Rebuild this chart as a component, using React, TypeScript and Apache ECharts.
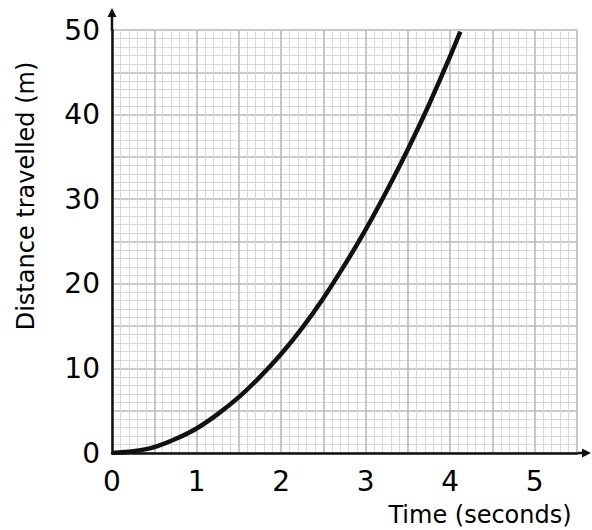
import React, { useEffect, useRef } from "react";
import * as echarts from "echarts";

const timeValues = [0, 0.25, 0.5, 0.75, 1, 1.25, 1.5, 1.75, 2, 2.25, 2.5, 2.75, 3, 3.25, 3.5, 3.75, 4, 4.12];
const distanceValues = [0, 0.2, 0.7, 1.65, 2.9, 4.6, 6.6, 9.0, 11.7, 14.8, 18.3, 22.2, 26.4, 31.0, 35.9, 41.2, 46.9, 49.8];
const xMax = 5.5;
const yMax = 50;
const xTitle = "Time (seconds)";
const yTitle = "Distance travelled (m)";

const FONT = "DejaVu Sans";

export default function App() {
  const ref = useRef<HTMLDivElement>(null);
  useEffect(() => {
    if (!ref.current) return;
    const chart = echarts.init(ref.current, null, { renderer: "svg" });
    const data = timeValues.map((t, i) => [t, distanceValues[i]]);
    const majorLine = { show: true, lineStyle: { color: "#bababa", width: 1.6 } };
    const minorLine = { show: true, lineStyle: { color: "#d8d8d8", width: 1 } };
    chart.setOption({
      animation: false,
      backgroundColor: "#ffffff",
      grid: { left: 112, top: 30, right: 15, bottom: 77, containLabel: false },
      xAxis: {
        type: "value",
        min: 0,
        max: xMax,
        interval: 0.5,
        axisLine: { show: true, onZero: false, lineStyle: { color: "#111", width: 2.5 } },
        axisTick: { show: false },
        minorTick: { show: false, splitNumber: 5 },
        splitLine: majorLine,
        minorSplitLine: minorLine,
        axisLabel: {
          margin: 14,
          fontSize: 28,
          fontFamily: FONT,
          color: "#000",
          showMaxLabel: false,
          formatter: (v: number) => (Math.abs(v - Math.round(v)) < 1e-6 ? String(Math.round(v)) : ""),
        },
      },
      yAxis: {
        type: "value",
        min: 0,
        max: yMax,
        interval: 5,
        axisLine: { show: true, onZero: false, lineStyle: { color: "#111", width: 2.5 } },
        axisTick: { show: false },
        minorTick: { show: false, splitNumber: 5 },
        splitLine: majorLine,
        minorSplitLine: minorLine,
        axisLabel: {
          margin: 12,
          fontSize: 28,
          fontFamily: FONT,
          color: "#000",
          formatter: (v: number) => (Math.round(v) % 10 === 0 ? String(Math.round(v)) : ""),
        },
      },
      graphic: [
        { type: "line", shape: { x1: 112, y1: 31, x2: 112, y2: 14 }, style: { stroke: "#111", lineWidth: 2.5 } },
        { type: "polygon", shape: { points: [[112, 8], [107.5, 17], [116.5, 17]] }, style: { fill: "#111" } },
        { type: "line", shape: { x1: 576, y1: 453, x2: 584, y2: 453 }, style: { stroke: "#111", lineWidth: 2.5 } },
        { type: "polygon", shape: { points: [[591, 453], [582, 448.5], [582, 457.5]] }, style: { fill: "#111" } },
        {
          type: "text",
          x: 480,
          y: 515,
          style: { text: xTitle, font: `24px "${FONT}"`, fill: "#000", align: "center", verticalAlign: "middle" },
        },
        {
          type: "text",
          x: 26,
          y: 196,
          rotation: Math.PI / 2,
          style: { text: yTitle, font: `24px "${FONT}"`, fill: "#000", align: "center", verticalAlign: "middle" },
        },
      ],
      series: [
        {
          type: "line",
          data,
          smooth: 0.3,
          symbol: "none",
          lineStyle: { color: "#111", width: 4.5 },
          z: 5,
        },
      ],
    });
    return () => chart.dispose();
  }, []);
  return <div ref={ref} style={{ position: "fixed", left: 0, top: 0, width: 592, height: 530 }} />;
}
